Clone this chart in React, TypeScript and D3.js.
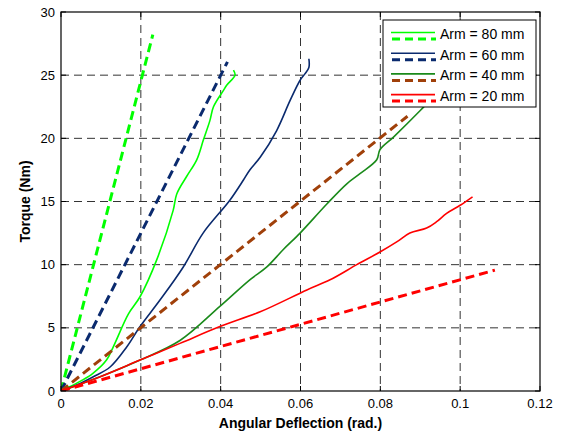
import React from "react";
import * as d3 from "d3";

const xTicks = [0, 0.02, 0.04, 0.06, 0.08, 0.1, 0.12];
const xTickLabels = ["0", "0.02", "0.04", "0.06", "0.08", "0.1", "0.12"];
const yTicks = [0, 5, 10, 15, 20, 25, 30];
const yTickLabels = ["0", "5", "10", "15", "20", "25", "30"];

const legendLabels = ["Arm = 80 mm", "Arm = 60 mm", "Arm = 40 mm", "Arm = 20 mm"];

// measured curves [deflection (rad), torque (Nm)]
const arm80Measured: [number, number][] = [
  [0, 0], [0.0023, 0.35], [0.005, 0.8], [0.008, 1.4], [0.0114, 2.45], [0.0131, 3.5],
  [0.0169, 6.1], [0.0198, 7.46], [0.024, 10.4], [0.0281, 14.3], [0.029, 15.6],
  [0.0315, 17.0], [0.034, 18.3], [0.0357, 19.9], [0.0373, 21.4], [0.0382, 22.5],
  [0.0407, 23.8], [0.0415, 24.2], [0.0436, 25.0], [0.0432, 25.4],
];
const arm60Measured: [number, number][] = [
  [0, 0], [0.0039, 0.47], [0.0081, 1.13], [0.0123, 1.9], [0.0165, 3.5], [0.0198, 5.1],
  [0.0248, 7.2], [0.0306, 9.8], [0.0356, 12.5], [0.0423, 15.1], [0.0457, 16.7],
  [0.0473, 17.5], [0.0499, 18.5], [0.054, 20.6], [0.0574, 23.0], [0.0599, 24.6],
  [0.0611, 25.1], [0.0621, 25.6], [0.0621, 26.3],
];
const arm40Measured: [number, number][] = [
  [0, 0], [0.0098, 1.13], [0.0198, 2.45], [0.0298, 4.0], [0.0398, 6.7], [0.0473, 8.8],
  [0.0515, 9.8], [0.0557, 11.2], [0.0599, 12.5], [0.0666, 14.8], [0.0716, 16.4],
  [0.0749, 17.2], [0.0791, 18.3], [0.0799, 19.1], [0.0833, 20.1], [0.09, 22.2], [0.093, 23.2],
];
const arm20Measured: [number, number][] = [
  [0, 0], [0.0098, 1.13], [0.0198, 2.45], [0.0298, 3.77], [0.0398, 5.1], [0.0499, 6.27],
  [0.0616, 8.0], [0.0674, 8.8], [0.0741, 10.0], [0.0799, 11.0], [0.0841, 11.8],
  [0.0874, 12.5], [0.0916, 12.9], [0.0941, 13.4], [0.0966, 14.06], [0.1, 14.7], [0.1031, 15.37],
];
// model (dashed) lines
const arm80Model: [number, number][] = [[0, 0], [0.023, 28.2]];
const arm60Model: [number, number][] = [[0, 0], [0.0417, 26.05]];
const arm40Model: [number, number][] = [[0, 0], [0.0868, 21.75]];
const arm20Model: [number, number][] = [[0, 0], [0.1087, 9.57]];

const solidColors = ["#00ff00", "#0a2a6e", "#1a8a1a", "#ff0000"];
const dashColors = ["#00ff00", "#0a2a6e", "#a0400a", "#ff0000"];

const W = 565, H = 438;
const left = 61, right = 540, top = 12, bottom = 391;

export default function App() {
  const x = d3.scaleLinear().domain([0, 0.12]).range([left, right]);
  const y = d3.scaleLinear().domain([0, 30]).range([bottom, top]);
  const curve = d3.line<[number, number]>().x(d => x(d[0])).y(d => y(d[1])).curve(d3.curveCatmullRom.alpha(0.5));
  const line = d3.line<[number, number]>().x(d => x(d[0])).y(d => y(d[1]));
  const measured = [arm80Measured, arm60Measured, arm40Measured, arm20Measured];
  const models = [arm80Model, arm60Model, arm40Model, arm20Model];
  const font = "Arial, 'Liberation Sans', Helvetica, sans-serif";
  const lx = 383, ly = 20, lw = 153, lh = 87;
  return (
    <svg width={W} height={H} style={{ position: "absolute", left: 0, top: 0, background: "#fff" }} fontFamily={font}>
      <rect x={0} y={0} width={W} height={H} fill="#fff" />
      <defs>
        <clipPath id="plotclip">
          <rect x={left} y={top} width={right - left} height={bottom - top} />
        </clipPath>
      </defs>
      {/* grid */}
      {xTicks.slice(1, -1).map((t, i) => (
        <line key={"gx" + i} x1={x(t)} x2={x(t)} y1={top} y2={bottom} stroke="#333" strokeWidth={1} strokeDasharray="8,5" />
      ))}
      {yTicks.slice(1, -1).map((t, i) => (
        <line key={"gy" + i} x1={left} x2={right} y1={y(t)} y2={y(t)} stroke="#333" strokeWidth={1} strokeDasharray="8,5" />
      ))}
      {/* data */}
      <g clipPath="url(#plotclip)">
        {measured.map((m, i) => (
          <g key={"s" + i}>
            <path d={curve(m) || ""} fill="none" stroke={solidColors[i]} strokeWidth={1.6} strokeLinejoin="round" />
            <path d={line(models[i]) || ""} fill="none" stroke={dashColors[i]} strokeWidth={3} strokeDasharray="9,5" />
          </g>
        ))}
      </g>
      {/* box */}
      <rect x={left} y={top} width={right - left} height={bottom - top} fill="none" stroke="#000" strokeWidth={1.2} />
      {/* ticks */}
      {xTicks.map((t, i) => (
        <g key={"tx" + i}>
          <line x1={x(t)} x2={x(t)} y1={bottom} y2={bottom - 5} stroke="#000" />
          <line x1={x(t)} x2={x(t)} y1={top} y2={top + 5} stroke="#000" />
          <text x={x(t)} y={bottom + 17} fontSize={13} textAnchor="middle" fill="#000">{xTickLabels[i]}</text>
        </g>
      ))}
      {yTicks.map((t, i) => (
        <g key={"ty" + i}>
          <line x1={left} x2={left + 5} y1={y(t)} y2={y(t)} stroke="#000" />
          <line x1={right} x2={right - 5} y1={y(t)} y2={y(t)} stroke="#000" />
          <text x={left - 6} y={y(t) + 4.5} fontSize={13} textAnchor="end" fill="#000">{yTickLabels[i]}</text>
        </g>
      ))}
      {/* axis titles */}
      <text x={(left + right) / 2} y={428} fontSize={14} fontWeight="bold" textAnchor="middle" fill="#000">Angular Deflection (rad.)</text>
      <text transform={`translate(30, ${(top + bottom) / 2}) rotate(-90)`} fontSize={14} fontWeight="bold" textAnchor="middle" fill="#000">Torque (Nm)</text>
      {/* legend */}
      <rect x={lx} y={ly} width={lw} height={lh} fill="#fff" stroke="#000" strokeWidth={1} />
      {legendLabels.map((lab, i) => {
        const yy = ly + 14 + i * 20.7;
        return (
          <g key={"lg" + i}>
            <line x1={lx + 8} x2={lx + 52} y1={yy - 1.5} y2={yy - 1.5} stroke={solidColors[i]} strokeWidth={1.6} />
            <line x1={lx + 9} x2={lx + 53} y1={yy + 5} y2={yy + 5} stroke={dashColors[i]} strokeWidth={3} strokeDasharray="8,5" />
            <text x={lx + 57} y={yy + 5} fontSize={14} fill="#000">{lab}</text>
          </g>
        );
      })}
    </svg>
  );
}
